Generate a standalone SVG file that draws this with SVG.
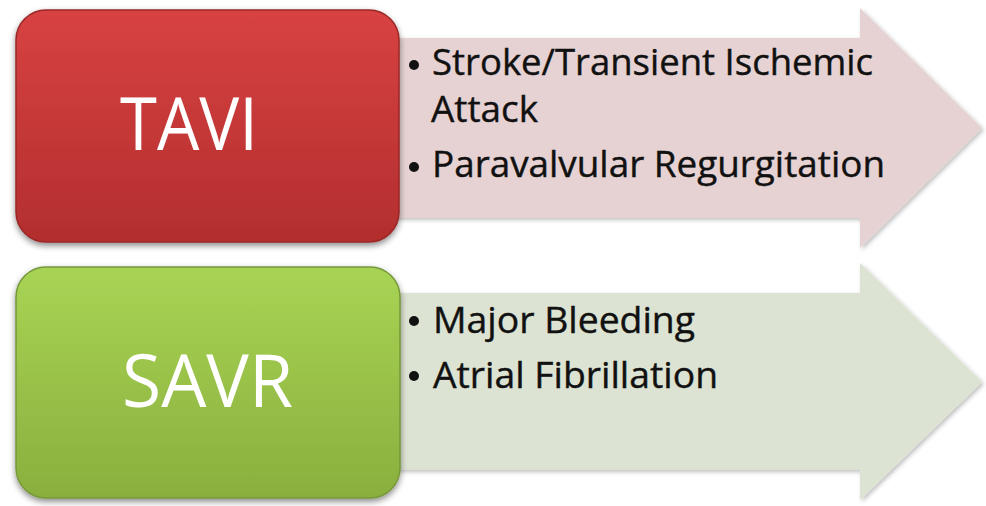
<svg xmlns="http://www.w3.org/2000/svg" width="986" height="506" viewBox="0 0 986 506">
  <defs>
    <linearGradient id="gRed" x1="0" y1="0" x2="0" y2="1">
      <stop offset="0" stop-color="#d84242"/>
      <stop offset="1" stop-color="#b32e2e"/>
    </linearGradient>
    <linearGradient id="gGreen" x1="0" y1="0" x2="0" y2="1">
      <stop offset="0" stop-color="#a8d454"/>
      <stop offset="1" stop-color="#8aaf3e"/>
    </linearGradient>
    <filter id="shBox" x="-10%" y="-10%" width="125%" height="130%">
      <feDropShadow dx="0" dy="3" stdDeviation="3" flood-color="#000" flood-opacity="0.45"/>
    </filter>
    <filter id="shArrow" x="-5%" y="-5%" width="112%" height="115%">
      <feDropShadow dx="2" dy="2" stdDeviation="2" flood-color="#000" flood-opacity="0.25"/>
    </filter>
  </defs>
  <style>
    .box-red { fill: url(#gRed); stroke: #9a2828; stroke-width: 1.5; filter: url(#shBox); }
    .box-green { fill: url(#gGreen); stroke: #76983a; stroke-width: 1.5; filter: url(#shBox); }
    .arrow-pink { fill: #e6d2d2; filter: url(#shArrow); }
    .arrow-green { fill: #dce3d2; filter: url(#shArrow); }
    .title { font-family: "Open Sans", "Liberation Sans", sans-serif; font-size: 73px; fill: #ffffff; }
    .item { font-family: "Open Sans", "Liberation Sans", sans-serif; font-size: 36px; fill: #111111; stroke: #111111; stroke-width: 0.4; }
    .bullet { fill: #111111; }
  </style>

  <g id="list-tavi">
    <path class="arrow-pink" d="M390,38 L860,38 L860,8 L982,128 L860,248 L860,218 L390,218 Z"/>
    <circle class="bullet" cx="414" cy="65" r="5"/>
    <text class="item" x="432" y="75" textLength="441" lengthAdjust="spacingAndGlyphs">Stroke/Transient Ischemic</text>
    <text class="item" x="431" y="122" textLength="107" lengthAdjust="spacingAndGlyphs">Attack</text>
    <circle class="bullet" cx="414" cy="167" r="5"/>
    <text class="item" x="432" y="177" textLength="453" lengthAdjust="spacingAndGlyphs">Paravalvular Regurgitation</text>
  </g>

  <g id="list-savr">
    <path class="arrow-green" d="M390,293 L860,293 L860,263 L982,382 L860,500 L860,470 L390,470 Z"/>
    <circle class="bullet" cx="414" cy="321" r="5"/>
    <text class="item" x="433" y="333" textLength="262" lengthAdjust="spacingAndGlyphs">Major Bleeding</text>
    <circle class="bullet" cx="414" cy="376" r="5"/>
    <text class="item" x="433" y="388" textLength="285" lengthAdjust="spacingAndGlyphs">Atrial Fibrillation</text>
  </g>

  <g id="node-tavi">
    <rect class="box-red" x="16" y="10" width="383" height="232" rx="30" ry="30"/>
    <text class="title" x="120" y="150" textLength="138" lengthAdjust="spacingAndGlyphs">TAVI</text>
  </g>

  <g id="node-savr">
    <rect class="box-green" x="16" y="267" width="384" height="231" rx="30" ry="30"/>
    <text class="title" x="122" y="407" textLength="171" lengthAdjust="spacingAndGlyphs">SAVR</text>
  </g>

  <g id="connectors"></g>
</svg>
